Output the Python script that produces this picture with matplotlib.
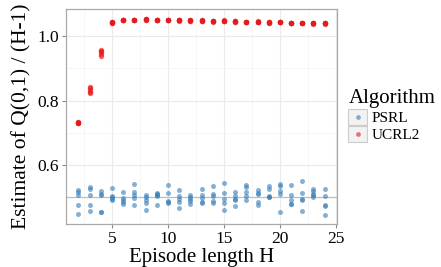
import matplotlib
matplotlib.use("Agg")
import matplotlib.pyplot as plt
from matplotlib.legend_handler import HandlerBase
from matplotlib.patches import Rectangle
from matplotlib.lines import Line2D

plt.rcParams['font.family'] = ['Liberation Serif', 'DejaVu Serif']

# episode lengths and estimates (5 runs per H)
horizons = list(range(2, 25))

psrl = [
    [0.520, 0.514, 0.505, 0.475, 0.445],
    [0.529, 0.525, 0.506, 0.474, 0.457],
    [0.517, 0.509, 0.506, 0.454, 0.453],
    [0.527, 0.502, 0.499, 0.493, 0.490],
    [0.516, 0.496, 0.490, 0.484, 0.477],
    [0.541, 0.514, 0.505, 0.497, 0.473],
    [0.506, 0.499, 0.491, 0.481, 0.458],
    [0.511, 0.508, 0.504, 0.501, 0.473],
    [0.536, 0.511, 0.488, 0.483, 0.480],
    [0.522, 0.501, 0.492, 0.484, 0.466],
    [0.505, 0.500, 0.493, 0.487, 0.477],
    [0.523, 0.505, 0.495, 0.483, 0.481],
    [0.535, 0.509, 0.501, 0.488, 0.482],
    [0.542, 0.511, 0.494, 0.480, 0.460],
    [0.514, 0.501, 0.493, 0.490, 0.470],
    [0.536, 0.530, 0.514, 0.502, 0.491],
    [0.520, 0.512, 0.509, 0.483, 0.475],
    [0.534, 0.524, 0.502, 0.500, 0.499],
    [0.540, 0.535, 0.519, 0.507, 0.453],
    [0.536, 0.504, 0.491, 0.478, 0.477],
    [0.549, 0.512, 0.494, 0.489, 0.455],
    [0.523, 0.517, 0.508, 0.504, 0.500],
    [0.523, 0.501, 0.473, 0.470, 0.443],
]

ucrl2 = [
    [0.734, 0.733, 0.731, 0.730, 0.730],
    [0.843, 0.840, 0.834, 0.826, 0.824],
    [0.956, 0.953, 0.950, 0.944, 0.940],
    [1.046, 1.045, 1.044, 1.043, 1.042],
    [1.052, 1.051, 1.051, 1.050, 1.050],
    [1.052, 1.052, 1.051, 1.051, 1.050],
    [1.054, 1.053, 1.053, 1.052, 1.052],
    [1.052, 1.052, 1.051, 1.051, 1.050],
    [1.052, 1.051, 1.051, 1.050, 1.050],
    [1.051, 1.051, 1.050, 1.050, 1.049],
    [1.051, 1.050, 1.050, 1.049, 1.049],
    [1.050, 1.050, 1.049, 1.049, 1.048],
    [1.048, 1.048, 1.047, 1.047, 1.046],
    [1.050, 1.049, 1.049, 1.048, 1.048],
    [1.048, 1.047, 1.047, 1.046, 1.046],
    [1.046, 1.046, 1.045, 1.045, 1.044],
    [1.047, 1.046, 1.046, 1.045, 1.045],
    [1.045, 1.044, 1.044, 1.043, 1.043],
    [1.046, 1.045, 1.045, 1.044, 1.044],
    [1.043, 1.043, 1.042, 1.042, 1.041],
    [1.043, 1.043, 1.042, 1.042, 1.041],
    [1.042, 1.042, 1.041, 1.041, 1.040],
    [1.042, 1.042, 1.041, 1.041, 1.040],
]

blue = '#377EB8'
red = '#E41A1C'


class BoxedDot(HandlerBase):
    """ggplot style legend key: grey box with a dot in it"""
    def create_artists(self, legend, orig, xdescent, ydescent, width, height, fontsize, trans):
        box = Rectangle((-xdescent, -ydescent), width, height, facecolor='#f2f2f2',
                        edgecolor='#cccccc', lw=0.8, transform=trans)
        dot = Line2D([width / 2 - xdescent], [height / 2 - ydescent], marker='o', ls='',
                     markersize=3.4, color=orig.get_color(), alpha=0.6,
                     markeredgewidth=0, transform=trans)
        return [box, dot]


fig = plt.figure(figsize=(4.41, 2.67), dpi=100)
ax = fig.add_axes([0.1497, 0.161, 0.6145, 0.805])

ax.axhline(0.5, color='#bdbdbd', lw=0.9, zorder=1)

for h, vals in zip(horizons, psrl):
    ax.scatter([h] * len(vals), vals, s=13, color=blue, alpha=0.6, linewidths=0, zorder=3)
for h, vals in zip(horizons, ucrl2):
    ax.scatter([h] * len(vals), vals, s=15, color=red, alpha=0.65, linewidths=0, zorder=3)

ax.set_xlim(0.9, 25.1)
ax.set_ylim(0.415, 1.085)
ax.set_xticks([5, 10, 15, 20, 25])
ax.set_xticks([2.5, 7.5, 12.5, 17.5, 22.5], minor=True)
ax.set_yticks([0.6, 0.8, 1.0])
ax.set_yticklabels(['0.6', '0.8', '1.0'])
ax.set_yticks([0.5, 0.7, 0.9], minor=True)
ax.grid(True, which='major', color='#ebebeb', lw=0.8, zorder=0)
ax.grid(True, which='minor', color='#f5f5f5', lw=0.6, zorder=0)
ax.set_axisbelow(True)
ax.tick_params(which='major', length=3, color='#888888', labelsize=12.5, pad=2)
ax.tick_params(which='minor', length=0)
for sp in ax.spines.values():
    sp.set_color('#aaaaaa')
    sp.set_linewidth(0.9)

ax.set_xlabel('Episode length H', fontsize=15, labelpad=1)
ax.set_ylabel('Estimate of Q(0,1) / (H-1)', fontsize=15.5, labelpad=4)

handles = [Line2D([], [], color=blue), Line2D([], [], color=red)]
leg = fig.legend(handles, ['PSRL', 'UCRL2'], title='Algorithm',
                 loc='upper left', bbox_to_anchor=(0.79, 0.665),
                 handler_map={Line2D: BoxedDot()}, frameon=False,
                 fontsize=11, title_fontsize=15, handlelength=1.2, handleheight=1.2,
                 handletextpad=0.3, labelspacing=0.05, borderpad=0, borderaxespad=0)
leg._legend_box.align = 'left'

fig.savefig('out.png', dpi=100)
